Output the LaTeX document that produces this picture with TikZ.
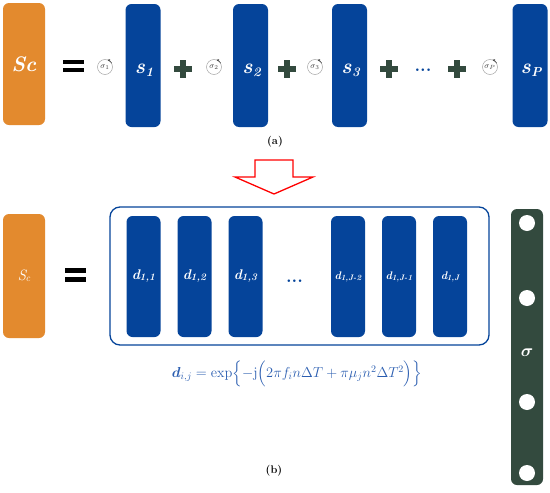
\documentclass[tikz,border=0pt]{standalone}
\usepackage{amsmath}
\usetikzlibrary{arrows.meta}
\definecolor{scorange}{HTML}{E38A2E}
\definecolor{sblue}{HTML}{05449A}
\definecolor{dgreen}{HTML}{334A3E}
\definecolor{fblue}{HTML}{2A5DB0}
\newcommand{\slabel}[1]{{\fontsize{21}{22}\selectfont\bfseries\itshape s}\kern0.5pt\raisebox{-3pt}{\fontsize{13}{14}\selectfont\bfseries\itshape #1}}
\newcommand{\dlabel}[3]{{\fontsize{#1}{14}\selectfont\bfseries\itshape d}\kern-0.5pt\raisebox{-1pt}{\fontsize{#2}{10}\selectfont\bfseries\itshape #3}}
\newcommand{\siglabel}[1]{$\sigma_{#1}$}
\tikzset{
  orangebox/.style={rectangle, rounded corners=6pt, fill=scorange, text=white, inner sep=0pt},
  bluebox/.style={rectangle, rounded corners=6pt, fill=sblue, text=white, inner sep=0pt, minimum width=35pt, minimum height=123pt},
  slab/.style={text=white, inner sep=0pt},
  dbox/.style={rectangle, rounded corners=6pt, fill=sblue, text=white, inner sep=0pt, minimum width=34pt, minimum height=121pt},
  sigcirc/.style={circle, draw=gray!70, line width=0.5pt, minimum size=15pt, inner sep=0pt, text=black!75, font=\fontsize{8}{8}\selectfont},
  sigarrow/.style={-{Stealth[length=2.5pt,width=2.5pt]}, line width=0.5pt, black!75},
  eqbar/.style={fill=black},
  plusbar/.style={fill=dgreen},
  dots/.style={text=sblue, font=\fontsize{18}{18}\selectfont\bfseries},
  caption/.style={font=\fontsize{11}{12}\selectfont\bfseries}
}
\begin{document}
\begin{tikzpicture}[x=1pt,y=-1pt]
\useasboundingbox (0,0) rectangle (550,493);
% ---------- (a) ----------
\node[orangebox, minimum width=42pt, minimum height=122pt, font=\fontsize{21}{22}\selectfont\bfseries\itshape] (sctop) at (24,64) {Sc};
\fill[eqbar] (63,60) rectangle (84,64);
\fill[eqbar] (63,68) rectangle (84,72);
\node[sigcirc] (c1) at (105,67) {\siglabel{1}};
\node[bluebox] (s1) at (143,65.5) {};
\node[slab] (s1lab) at (144,70) {\slabel{1}};
\fill[plusbar] (174,66) rectangle (192,72);
\fill[plusbar] (180,60) rectangle (186,78);
\node[sigcirc] (c2) at (214,67) {\siglabel{2}};
\node[bluebox] (s2) at (250.5,65.5) {};
\node[slab] (s2lab) at (251.5,70) {\slabel{2}};
\fill[plusbar] (278,66) rectangle (296,72);
\fill[plusbar] (284,60) rectangle (290,78);
\node[sigcirc] (c3) at (315,67) {\siglabel{3}};
\node[bluebox] (s3) at (349.5,65.5) {};
\node[slab] (s3lab) at (350.5,70) {\slabel{3}};
\fill[plusbar] (380,66) rectangle (398,72);
\fill[plusbar] (386,60) rectangle (392,78);
\node[dots] (dtop) at (423,70) {...};
\fill[plusbar] (448,66) rectangle (466,72);
\fill[plusbar] (454,60) rectangle (460,78);
\node[sigcirc] (cp) at (490,67) {\siglabel{P}};
\node[bluebox] (sp) at (530,65.5) {};
\node[slab] (splab) at (531,70) {\slabel{P}};
\foreach \c in {c1,c2,c3,cp}{
  \draw[sigarrow] (\c.30) arc[start angle=-30, end angle=-72, radius=7.5];
}
\node[caption] (capa) at (275,142) {(a)};
% ---------- arrow ----------
\draw[red, line width=1.3pt, line join=miter] (255,160) -- (293,160) -- (293,177) -- (313,177) -- (274,194) -- (235,177) -- (255,177) -- cycle;
% ---------- (b) ----------
\node[orangebox, minimum width=42pt, minimum height=124pt, font=\fontsize{15}{15}\selectfont\itshape] (scbot) at (24,276) {S\kern-0.5pt\raisebox{-1pt}{\fontsize{10}{10}\selectfont c}};
\fill[eqbar] (65,268) rectangle (86,273);
\fill[eqbar] (65,277) rectangle (86,282);
\node[draw=sblue, line width=1.3pt, rounded corners=10pt, minimum width=379pt, minimum height=138pt, inner sep=0pt] (frame) at (299.5,276) {};
\node[dbox] (d1) at (143.5,276.5) {\dlabel{14}{10}{1,1}};
\node[dbox] (d2) at (194.5,276.5) {\dlabel{14}{10}{1,2}};
\node[dbox] (d3) at (245.5,276.5) {\dlabel{14}{10}{1,3}};
\node[dots] (dbot) at (294.5,281) {...};
\node[dbox] (d4) at (348,276.5) {\dlabel{11}{8}{1,J-2}};
\node[dbox] (d5) at (399,276.5) {\dlabel{11}{8}{1,J-1}};
\node[dbox] (d6) at (450,276.5) {\dlabel{11}{8}{1,J}};
\node[text=fblue, font=\fontsize{14.5}{15}\selectfont] (formula) at (297,374)
  {$\boldsymbol{d}_{i,j}=\exp\Bigl\{-\mathrm{j}\Bigl(2\pi f_i n\Delta T+\pi\mu_j n^2\Delta T^2\Bigr)\Bigr\}$};
\node[rectangle, rounded corners=6pt, fill=dgreen, minimum width=32pt, minimum height=276pt, inner sep=0pt] (sigbar) at (527,347) {};
\foreach \yy/\nm in {223/h1,298/h2,402/h3,473/h4}{
  \node[circle, fill=white, minimum size=16pt, inner sep=0pt] (\nm) at (527,\yy) {};
}
\node[text=white, font=\fontsize{18}{18}\selectfont\bfseries] (siglab) at (527,353) {$\boldsymbol{\sigma}$};
\node[caption] (capb) at (274,471) {(b)};
\end{tikzpicture}
\end{document}
